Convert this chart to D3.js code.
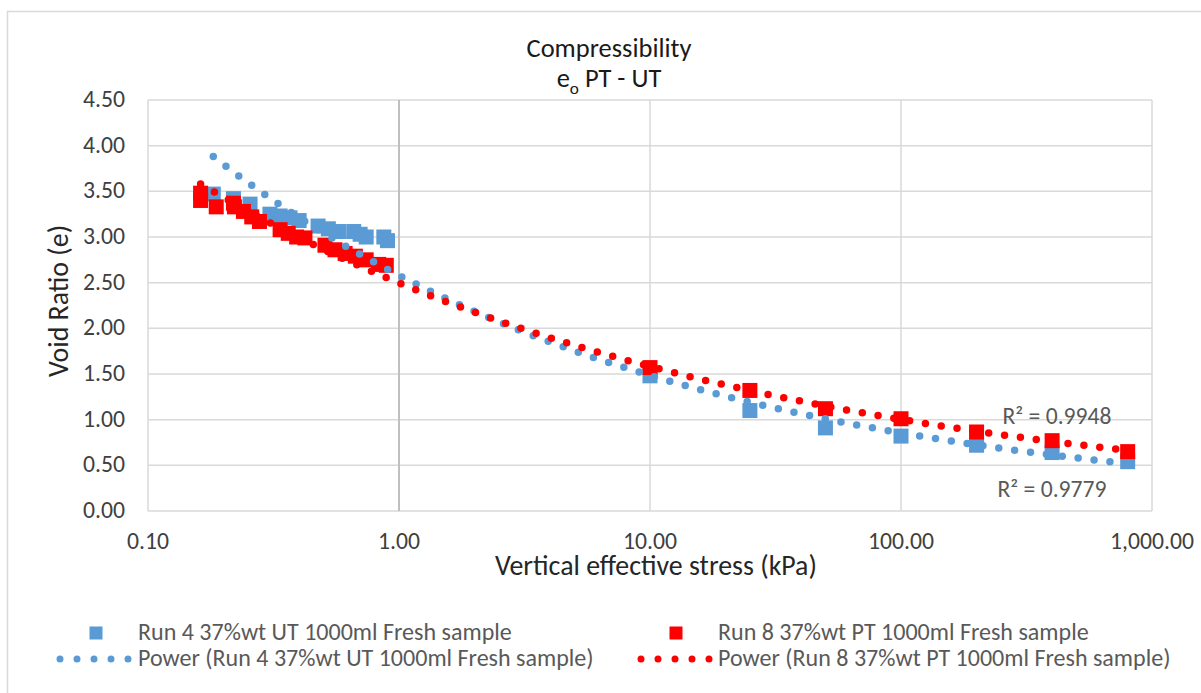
<!DOCTYPE html>
<html>
<head>
<meta charset="utf-8">
<script src="https://cdn.jsdelivr.net/npm/d3@7"></script>
<style>
  body { margin: 0; background: #fff; }
  text { font-family: Carlito, Lato, sans-serif; }
</style>
</head>
<body>
<div id="plot"></div>
<script>
const w = 1201;
const h = 693;
const margin = { top: 100, right: 49, bottom: 182, left: 148 };
const innerWidth = w - margin.left - margin.right;
const innerHeight = h - margin.top - margin.bottom;

// Run 4 (UT) - blue squares
const utStress = [0.182, 0.219, 0.255, 0.306, 0.336, 0.368, 0.40, 0.476, 0.523, 0.574, 0.66, 0.70, 0.74, 0.87, 0.90,
  10, 25, 50, 100, 200, 400, 800];
const utVoid = [3.47, 3.42, 3.36, 3.25, 3.23, 3.21, 3.18, 3.12, 3.09, 3.06, 3.06, 3.03, 3.00, 3.00, 2.96,
  1.48, 1.10, 0.91, 0.82, 0.72, 0.64, 0.54];

// Run 8 (PT) - red squares
const ptStress = [0.162, 0.162, 0.187, 0.219, 0.221, 0.240, 0.259, 0.278, 0.336, 0.362, 0.391, 0.422, 0.507, 0.556,
  0.610, 0.67, 0.74, 0.83, 0.89, 10, 25, 50, 100, 200, 400, 800];
const ptVoid = [3.48, 3.40, 3.33, 3.37, 3.33, 3.28, 3.22, 3.17, 3.08, 3.04, 3.00, 2.99, 2.91, 2.86,
  2.82, 2.79, 2.75, 2.70, 2.69, 1.57, 1.32, 1.12, 1.01, 0.865, 0.77, 0.65];

const xTicks = [0.1, 1, 10, 100, 1000];
const yTicks = [0, 0.5, 1, 1.5, 2, 2.5, 3, 3.5, 4, 4.5];
const seriesNames = ["Run 4 37%wt UT 1000ml Fresh sample", "Run 8 37%wt PT 1000ml Fresh sample"];
const rSquared = ["R² = 0.9779", "R² = 0.9948"];

const blue = "#5B9BD5";
const red = "#FF0000";

const svg = d3.select("div#plot")
  .append("svg")
  .attr("width", w)
  .attr("height", h);

// work out font sizes so the text widths match the original
const measure = svg.append("text").attr("font-size", 100);
function sizeFor(str, width) {
  measure.text(str);
  return 100 * width / measure.node().getComputedTextLength();
}
const titleSize = sizeFor("Compressibility", 165);
const tickSize = sizeFor("10.00", 54);
const axisTitleSize = sizeFor("Vertical effective stress (kPa)", 322);
const legendSize = sizeFor(seriesNames[0], 374);
const rSize = sizeFor(rSquared[1], 109);
measure.remove();

// chart frame: only the top and left edges show in the picture
svg.append("path")
  .attr("d", `M7.5,${h} V11.5 H${w}`)
  .attr("fill", "none")
  .attr("stroke", "#D9D9D9")
  .attr("stroke-width", 1.5);

// scales map straight to page pixels
const xScale = d3.scaleLog()
  .domain([0.1, 1000])
  .range([margin.left, margin.left + innerWidth]);

const yScale = d3.scaleLinear()
  .domain([0, 4.5])
  .range([margin.top + innerHeight, margin.top]);

// gridlines
svg.append("g")
  .selectAll("line")
  .data(yTicks)
  .enter()
  .append("line")
  .attr("x1", xScale(0.1))
  .attr("x2", xScale(1000))
  .attr("y1", d => yScale(d))
  .attr("y2", d => yScale(d))
  .attr("stroke", "#D9D9D9")
  .attr("stroke-width", 1.5);

svg.append("g")
  .selectAll("line")
  .data(xTicks)
  .enter()
  .append("line")
  .attr("x1", d => xScale(d))
  .attr("x2", d => xScale(d))
  .attr("y1", yScale(4.5))
  .attr("y2", yScale(0))
  .attr("stroke", d => d === 1 ? "#BFBFBF" : "#D9D9D9")
  .attr("stroke-width", d => d === 1 ? 2 : 1.5);

// tick labels
const xFormat = d3.format(",.2f");
svg.append("g")
  .selectAll("text")
  .data(xTicks)
  .enter()
  .append("text")
  .attr("x", d => xScale(d))
  .attr("y", yScale(0) + 38)
  .attr("text-anchor", "middle")
  .attr("font-size", tickSize)
  .attr("fill", "#404040")
  .text(d => xFormat(d));

svg.append("g")
  .selectAll("text")
  .data(yTicks)
  .enter()
  .append("text")
  .attr("x", margin.left - 23)
  .attr("y", d => yScale(d) + 7)
  .attr("text-anchor", "end")
  .attr("font-size", tickSize)
  .attr("fill", "#404040")
  .text(d => d.toFixed(2));

// markers
function drawSquares(xs, ys, color) {
  svg.append("g")
    .selectAll("rect")
    .data(xs.map((x, i) => ({ x: x, y: ys[i] })))
    .enter()
    .append("rect")
    .attr("x", d => xScale(d.x) - 7.5)
    .attr("y", d => yScale(d.y) - 7.5)
    .attr("width", 15)
    .attr("height", 15)
    .attr("fill", color);
}
drawSquares(utStress, utVoid, blue);
drawSquares(ptStress, ptVoid, red);

// power trendlines (least squares on logs, like Excel)
function powerFit(xs, ys) {
  const lx = xs.map(Math.log);
  const ly = ys.map(Math.log);
  const mx = d3.mean(lx), my = d3.mean(ly);
  const b = d3.sum(lx, (v, i) => (v - mx) * (ly[i] - my)) / d3.sum(lx, v => (v - mx) * (v - mx));
  return { a: Math.exp(my - b * mx), b: b };
}

const line = d3.line()
  .x(d => xScale(d.x))
  .y(d => yScale(d.y));

function drawTrend(xs, ys, color) {
  const fit = powerFit(xs, ys);
  const [x0, x1] = d3.extent(xs);
  const pts = d3.range(0, 301).map(i => {
    const x = x0 * Math.pow(x1 / x0, i / 300);
    return { x: x, y: fit.a * Math.pow(x, fit.b) };
  });
  svg.append("path")
    .datum(pts)
    .attr("d", line)
    .attr("fill", "none")
    .attr("stroke", color)
    .attr("stroke-width", 7.5)
    .attr("stroke-linecap", "round")
    .attr("stroke-dasharray", "0 16");
}
drawTrend(utStress, utVoid, blue);
drawTrend(ptStress, ptVoid, red);

// R² labels
svg.append("text")
  .attr("x", 1057)
  .attr("y", 424)
  .attr("text-anchor", "middle")
  .attr("font-size", rSize)
  .attr("fill", "#595959")
  .text(rSquared[1]);

svg.append("text")
  .attr("x", 1052)
  .attr("y", 497)
  .attr("text-anchor", "middle")
  .attr("font-size", rSize)
  .attr("fill", "#595959")
  .text(rSquared[0]);

// titles
svg.append("text")
  .attr("x", 609)
  .attr("y", 57)
  .attr("text-anchor", "middle")
  .attr("font-size", titleSize)
  .attr("fill", "#1a1a1a")
  .text("Compressibility");

const sub = svg.append("text")
  .attr("x", 609)
  .attr("y", 87)
  .attr("text-anchor", "middle")
  .attr("font-size", titleSize)
  .attr("fill", "#1a1a1a");
sub.append("tspan").text("e");
sub.append("tspan").attr("font-size", titleSize * 0.65).attr("dy", 7).text("o");
sub.append("tspan").attr("dy", -7).text(" PT - UT");

svg.append("text")
  .attr("x", 656)
  .attr("y", 575)
  .attr("text-anchor", "middle")
  .attr("font-size", axisTitleSize)
  .attr("fill", "#262626")
  .text("Vertical effective stress (kPa)");

svg.append("text")
  .attr("transform", "rotate(-90)")
  .attr("x", -301)
  .attr("y", 68)
  .attr("text-anchor", "middle")
  .attr("font-size", axisTitleSize)
  .attr("fill", "#262626")
  .text("Void Ratio (e)");

// legend
const legend = svg.append("g");
const legendCols = [{ sq: 96, dot0: 60, text: 138, color: blue }, { sq: 676, dot0: 641, text: 718, color: red }];

legendCols.forEach((c, i) => {
  legend.append("rect")
    .attr("x", c.sq - 6.5)
    .attr("y", 626.5)
    .attr("width", 13)
    .attr("height", 13)
    .attr("fill", c.color);
  legend.append("text")
    .attr("x", c.text)
    .attr("y", 640)
    .attr("font-size", legendSize)
    .attr("fill", "#595959")
    .text(seriesNames[i]);
  legend.append("line")
    .attr("x1", c.dot0)
    .attr("x2", c.dot0 + 68.5)
    .attr("y1", 659)
    .attr("y2", 659)
    .attr("stroke", c.color)
    .attr("stroke-width", 7)
    .attr("stroke-linecap", "round")
    .attr("stroke-dasharray", "0 17");
  legend.append("text")
    .attr("x", c.text)
    .attr("y", 666)
    .attr("font-size", legendSize)
    .attr("fill", "#595959")
    .text(`Power (${seriesNames[i]})`);
});
</script>
</body>
</html>
